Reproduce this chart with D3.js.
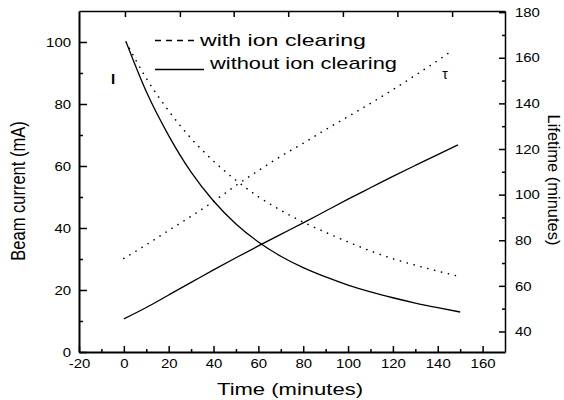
<!DOCTYPE html>
<html>
<head>
<meta charset="utf-8">
<script src="https://cdn.jsdelivr.net/npm/d3@7"></script>
<style>
  body { margin: 0; background: #fff; }
  text { font-family: "Liberation Sans", Arial, sans-serif; fill: #000; }
</style>
</head>
<body>
<script>
// Values
let timeI = [1, 10, 20, 30, 40, 50, 60, 70, 80, 90, 100, 110, 120, 130, 140, 150];
let currentWithout = [100, 84.0, 69.8, 58.0, 48.7, 41.3, 35.5, 30.9, 27.2, 24.2, 21.6, 19.4, 17.5, 15.8, 14.3, 12.9];
let currentWith = [100, 88.3, 77.8, 68.9, 61.6, 55.4, 50.1, 45.7, 41.9, 38.6, 35.5, 32.6, 30.1, 28.0, 26.1, 24.3];

let timeTau = [0, 10, 20, 30, 40, 50, 60, 70, 80, 90, 100, 110, 120, 130, 140, 149];
let lifetimeWithout = [45.5, 50.5, 56, 61.5, 67, 72.3, 77.5, 82.6, 87.6, 92.8, 98, 103, 108, 112.8, 117.5, 121.8];
let timeTauWith = [0, 10, 20, 30, 40, 50, 60, 70, 80, 90, 100, 110, 120, 130, 140, 147];
let lifetimeWith = [72, 78, 84.3, 90.5, 97, 104, 110.5, 116.8, 122.5, 128.5, 134.2, 140, 146, 152.3, 158.8, 163.5];

// Tick values
let xTicks = [-20, 0, 20, 40, 60, 80, 100, 120, 140, 160];
let xMinorTicks = [-10, 10, 30, 50, 70, 90, 110, 130, 150];
let topTicks = [0.5, 25, 49, 73.3, 97.7, 122, 146.4];
let leftTicks = [0, 20, 40, 60, 80, 100];
let leftMinorTicks = [10, 30, 50, 70, 90];
let rightTicks = [40, 60, 80, 100, 120, 140, 160, 180];
let rightMinorTicks = [50, 70, 90, 110, 130, 150, 170];

let margin = { top: 11, right: 59, bottom: 48, left: 79 };
let width = 564 - margin.left - margin.right;
let height = 400 - margin.top - margin.bottom;

let root = d3.select("body")
  .append("svg")
    .attr("width", 564)
    .attr("height", 400);
let svg = root.append("g")
    .attr("transform", "translate(" + margin.left + "," + margin.top + ")");

let x = d3.scaleLinear().domain([-20, 170]).range([0, width]);
let yI = d3.scaleLinear().domain([0, 110]).range([height, 0]);
let yT = d3.scaleLinear().domain([31, 180.5]).range([height, 0]);

// the scanned figure is stretched sideways, so widen the text a bit
function stretch(sel, k) {
  sel.each(function () {
    let t = d3.select(this);
    let x0 = +t.attr("x") || 0;
    t.attr("x", x0 / k).attr("transform", "scale(" + k + ",1)");
  });
}

function styleAxis(g, w) {
  g.select(".domain").attr("stroke", "#000").attr("stroke-width", w);
  g.selectAll(".tick line").attr("stroke", "#000").attr("stroke-width", 1.5);
  g.selectAll(".tick text")
    .style("font-size", "13px")
    .style("font-family", "'Liberation Sans', Arial, sans-serif")
    .attr("fill", "#000");
}

// bottom axis
let gx = svg.append("g")
  .attr("transform", "translate(0," + height + ")")
  .call(d3.axisBottom(x).tickValues(xTicks).tickSize(-6).tickSizeOuter(0)
    .tickPadding(7).tickFormat(d => String(d)));
styleAxis(gx, 2);
stretch(gx.selectAll(".tick text"), 1.15);

let gxm = svg.append("g")
  .attr("transform", "translate(0," + height + ")")
  .call(d3.axisBottom(x).tickValues(xMinorTicks).tickSize(-3).tickFormat(""));
gxm.select(".domain").remove();
styleAxis(gxm, 0);

// top axis
let gt = svg.append("g")
  .call(d3.axisTop(x).tickValues(topTicks).tickSize(-6).tickSizeOuter(0).tickFormat(""));
styleAxis(gt, 1.5);

// left axis
let gy = svg.append("g")
  .call(d3.axisLeft(yI).tickValues(leftTicks).tickSize(-8).tickSizeOuter(0)
    .tickPadding(8).tickFormat(d => String(d)));
styleAxis(gy, 2);
stretch(gy.selectAll(".tick text"), 1.15);

let gym = svg.append("g")
  .call(d3.axisLeft(yI).tickValues(leftMinorTicks).tickSize(-4).tickFormat(""));
gym.select(".domain").remove();
styleAxis(gym, 0);

// right axis
let gr = svg.append("g")
  .attr("transform", "translate(" + width + ",0)")
  .call(d3.axisRight(yT).tickValues(rightTicks).tickSize(-6).tickSizeOuter(0)
    .tickPadding(10).tickFormat(d => String(d)));
styleAxis(gr, 1.5);
stretch(gr.selectAll(".tick text"), 1.15);

let grm = svg.append("g")
  .attr("transform", "translate(" + width + ",0)")
  .call(d3.axisRight(yT).tickValues(rightMinorTicks).tickSize(-3).tickFormat(""));
grm.select(".domain").remove();
styleAxis(grm, 0);

// curves
let lineI = d3.line().x(d => x(d[0])).y(d => yI(d[1])).curve(d3.curveMonotoneX);
let lineT = d3.line().x(d => x(d[0])).y(d => yT(d[1])).curve(d3.curveMonotoneX);

function solid(path) {
  path.attr("fill", "none").attr("stroke", "#000").attr("stroke-width", 1.3);
}
function dotted(path) {
  path.attr("fill", "none").attr("stroke", "#000").attr("stroke-width", 1.6)
    .attr("stroke-linecap", "round").attr("stroke-dasharray", "0.1,7");
}

svg.append("path").attr("d", lineI(d3.zip(timeI, currentWithout))).call(solid);
svg.append("path").attr("d", lineI(d3.zip(timeI, currentWith))).call(dotted);
svg.append("path").attr("d", lineT(d3.zip(timeTau, lifetimeWithout))).call(solid);
svg.append("path").attr("d", lineT(d3.zip(timeTauWith, lifetimeWith))).call(dotted);

// legend
root.append("line")
  .attr("x1", 155).attr("x2", 194).attr("y1", 40.5).attr("y2", 40.5)
  .attr("stroke", "#000").attr("stroke-width", 1.5).attr("stroke-dasharray", "6,5");
root.append("text")
  .attr("x", 200).attr("y", 45.5)
  .attr("textLength", 166).attr("lengthAdjust", "spacingAndGlyphs")
  .style("font-size", "17px")
  .text("with ion clearing");
root.append("line")
  .attr("x1", 155).attr("x2", 204).attr("y1", 69.5).attr("y2", 69.5)
  .attr("stroke", "#000").attr("stroke-width", 1.5);
root.append("text")
  .attr("x", 210).attr("y", 68.5)
  .attr("textLength", 187).attr("lengthAdjust", "spacingAndGlyphs")
  .style("font-size", "17px")
  .text("without ion clearing");

// curve group markers
root.append("text")
  .attr("x", 113).attr("y", 83.5)
  .attr("text-anchor", "middle")
  .style("font-size", "15px")
  .style("font-weight", "bold")
  .text("I");
root.append("text")
  .attr("x", 445).attr("y", 78.5)
  .attr("text-anchor", "middle")
  .style("font-size", "14px")
  .text("τ");

// axis titles
root.append("text")
  .attr("x", 290).attr("y", 395)
  .attr("text-anchor", "middle")
  .attr("textLength", 146).attr("lengthAdjust", "spacingAndGlyphs")
  .style("font-size", "17px")
  .text("Time (minutes)");

root.append("text")
  .attr("transform", "translate(24.5,191) scale(1.2,1) rotate(-90)")
  .attr("text-anchor", "middle")
  .style("font-size", "16.5px")
  .text("Beam current (mA)");

root.append("text")
  .attr("transform", "translate(548,180) scale(1.05,1) rotate(90)")
  .attr("text-anchor", "middle")
  .style("font-size", "16.5px")
  .text("Lifetime (minutes)");
</script>
</body>
</html>
